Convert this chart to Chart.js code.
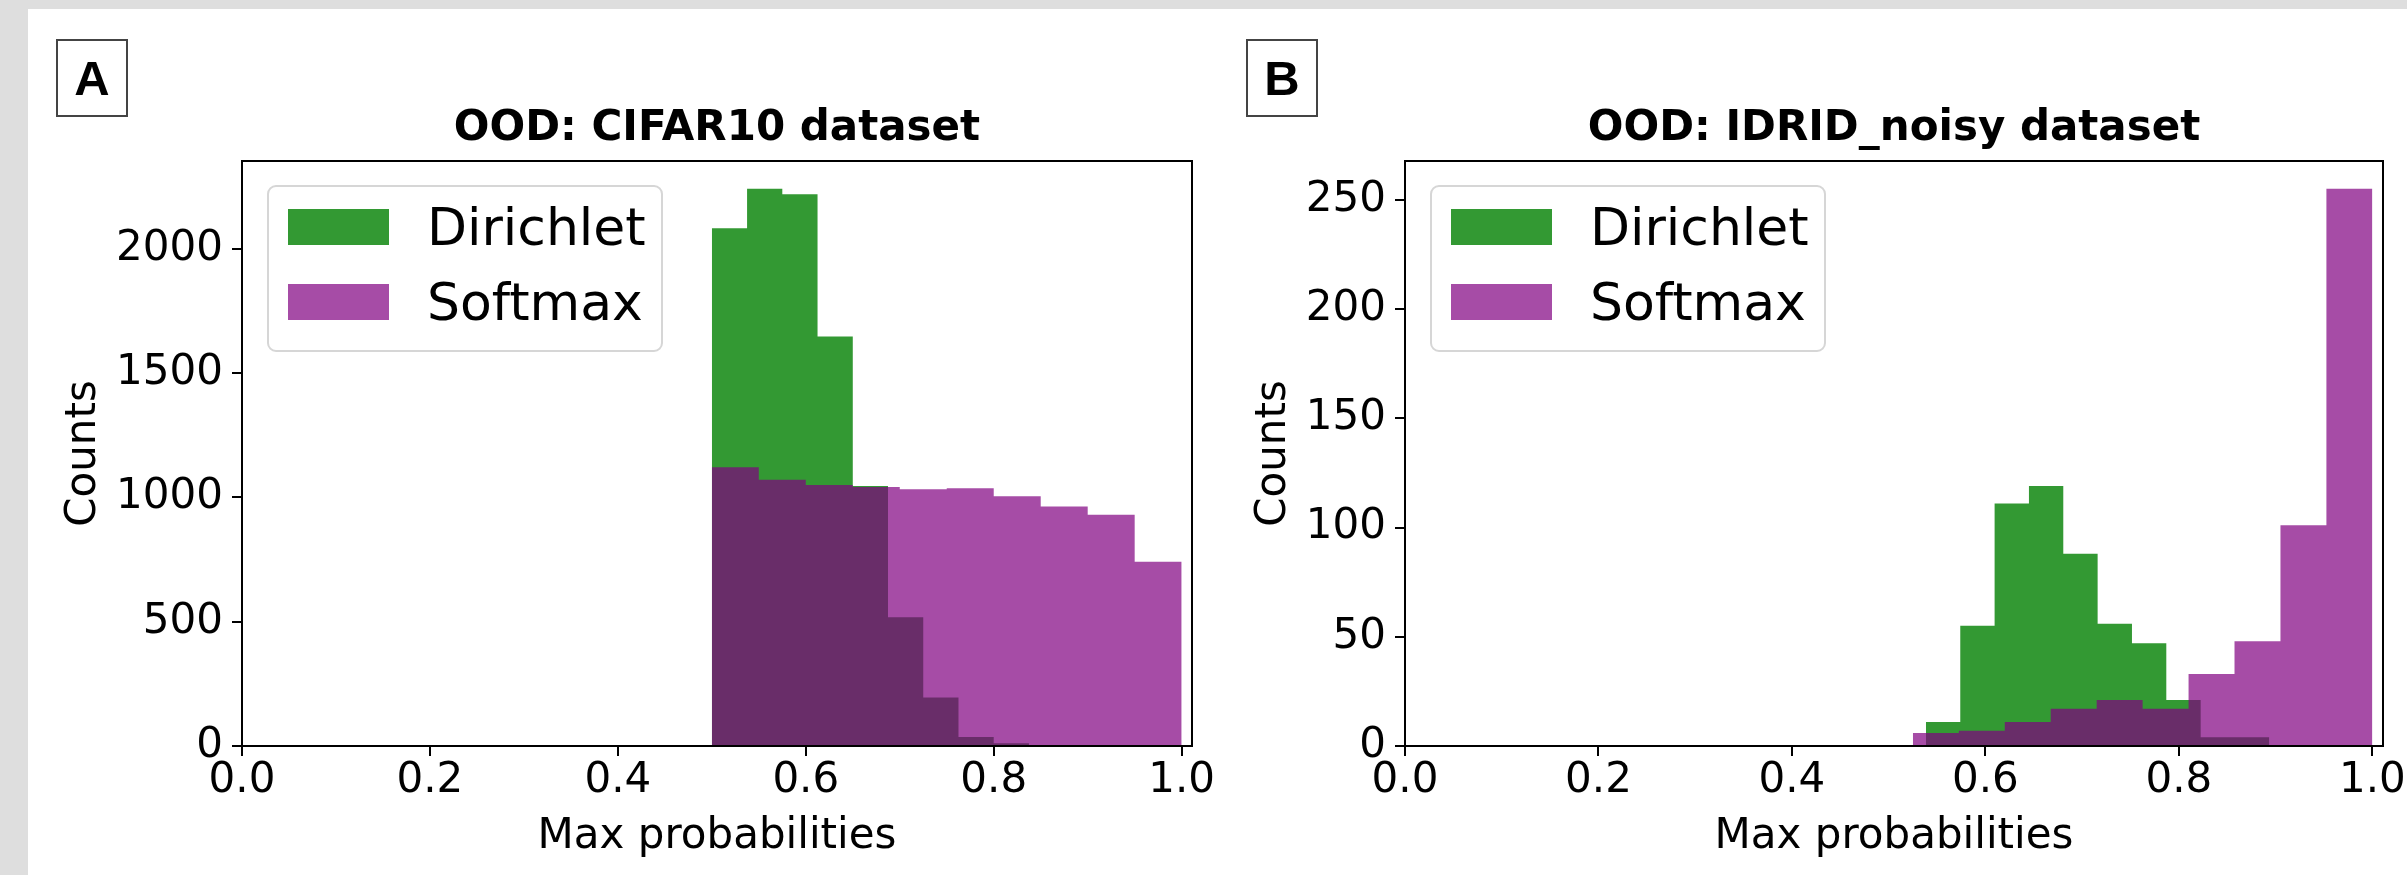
<!DOCTYPE html>
<html>
<head>
<meta charset="utf-8">
<script src="https://cdn.jsdelivr.net/npm/chart.js@4.4.1/dist/chart.umd.min.js"></script>
<style>
  html, body { margin: 0; padding: 0; }
  body { width: 2407px; height: 875px; overflow: hidden; background: #dedede; position: relative; font-family: "DejaVu Sans", sans-serif; }
  .sheet { position: absolute; left: 28px; top: 9px; width: 2500px; height: 900px; background: #fff; }
  .tag { position: absolute; top: 39px; width: 72px; height: 78px; box-sizing: border-box; border: 2px solid #444;
         font: bold 49px "Liberation Sans", sans-serif; display: flex; align-items: center; justify-content: center; z-index: 3; }
  .box { position: absolute; top: 9px; height: 866px; }
  .legend { position: absolute; width: 396px; height: 167px; box-sizing: border-box; border: 2px solid #d6d6d6;
            border-radius: 9px; background: #fff; z-index: 2; }
  .legend .patch { position: absolute; left: 19px; width: 101px; height: 36px; }
  .legend .lbl { position: absolute; left: 158px; height: 36px; line-height: 36px; font-size: 52px; white-space: nowrap; color: #000; }
</style>
</head>
<body>
<div class="sheet"></div>
<div class="tag" style="left:56px">A</div>
<div class="tag" style="left:1246px">B</div>

<div class="box" id="box1" style="left:40px; width:1190px;">
  <canvas id="chart1"></canvas>
  <div class="legend" id="legend1"></div>
</div>
<div class="box" id="box2" style="left:1230px; width:1220px;">
  <canvas id="chart2"></canvas>
  <div class="legend" id="legend2"></div>
</div>

<script>
// CIFAR10 (panel A) histogram bins and counts
const cifarDirEdges = [0.5, 0.5375, 0.575, 0.6125, 0.65, 0.6875, 0.725, 0.7625, 0.8, 0.8375, 0.875];
const cifarDirichlet = [2083, 2242, 2220, 1648, 1046, 518, 195, 36, 11, 3];
const cifarSoftEdges = [0.5, 0.55, 0.6, 0.65, 0.7, 0.75, 0.8, 0.85, 0.9, 0.95, 1.0];
const cifarSoftmax = [1122, 1071, 1050, 1042, 1033, 1037, 1005, 964, 931, 741];
const cifarYTicks = [0, 500, 1000, 1500, 2000];

// IDRID_noisy (panel B)
const idridDirEdges = [0.5385, 0.574, 0.6095, 0.645, 0.6805, 0.716, 0.7515, 0.787, 0.8225, 0.858, 0.8935];
const idridDirichlet = [11, 55, 111, 119, 88, 56, 47, 21, 4, 4];
const idridSoftEdges = [0.525, 0.5725, 0.62, 0.6675, 0.715, 0.7625, 0.81, 0.8575, 0.905, 0.9525, 1.0];
const idridSoftmax = [6, 7, 11, 17, 21, 17, 33, 48, 101, 255];
const idridYTicks = [0, 50, 100, 150, 200, 250];

const xTicks = [0, 0.2, 0.4, 0.6, 0.8, 1.0];
const seriesNames = ['Dirichlet', 'Softmax'];

const GREEN = 'rgba(0,128,0,0.8)';
const PURPLE = 'rgba(128,0,128,0.7)';

Chart.defaults.font.family = "'DejaVu Sans', sans-serif";
Chart.defaults.font.size = 42;
Chart.defaults.color = '#000';

// turn bin edges + counts into the outline of a step histogram
function steps(edges, counts) {
  const pts = [{x: edges[0], y: 0}];
  counts.forEach((c, i) => {
    pts.push({x: edges[i], y: c});
    pts.push({x: edges[i + 1], y: c});
  });
  pts.push({x: edges[edges.length - 1], y: 0});
  return pts;
}

// black box round the plot, like the matplotlib spines
const frame = {
  id: 'frame',
  afterDraw(chart) {
    const {ctx, chartArea: a} = chart;
    ctx.save();
    ctx.strokeStyle = '#000';
    ctx.lineWidth = 2;
    ctx.strokeRect(a.left, a.top, a.right - a.left, a.bottom - a.top);
    ctx.restore();
  }
};

// html legend placed in the upper left corner of the plot
const htmlLegend = {
  id: 'htmlLegend',
  afterUpdate(chart, args, opts) {
    const box = document.getElementById(opts.id);
    box.innerHTML = '';
    chart.data.datasets.forEach((ds, i) => {
      const patch = document.createElement('div');
      patch.className = 'patch';
      patch.style.top = (22 + i * 75) + 'px';
      patch.style.background = ds.backgroundColor;
      const lbl = document.createElement('div');
      lbl.className = 'lbl';
      lbl.style.top = (22 + i * 75) + 'px';
      lbl.textContent = ds.label;
      box.appendChild(patch);
      box.appendChild(lbl);
    });
    box.style.left = (chart.chartArea.left + 25) + 'px';
    box.style.top = (chart.chartArea.top + 24) + 'px';
  }
};

function makeChart(id, legendId, title, dir, dirEdges, soft, softEdges, yMax, yTicks, yWidth, padRight) {
  return new Chart(document.getElementById(id), {
    type: 'line',
    data: {
      datasets: [
        {
          label: seriesNames[0],
          data: steps(dirEdges, dir),
          backgroundColor: GREEN,
          borderColor: 'rgba(0,0,0,0)',
          borderWidth: 0,
          pointRadius: 0,
          fill: 'origin',
          order: 1
        },
        {
          label: seriesNames[1],
          data: steps(softEdges, soft),
          backgroundColor: PURPLE,
          borderColor: 'rgba(0,0,0,0)',
          borderWidth: 0,
          pointRadius: 0,
          fill: 'origin',
          order: 0
        }
      ]
    },
    options: {
      responsive: true,
      maintainAspectRatio: false,
      animation: false,
      events: [],
      layout: { padding: { left: 0, right: padRight, top: 0, bottom: 0 } },
      plugins: {
        legend: { display: false },
        tooltip: { enabled: false },
        title: {
          display: true,
          text: title,
          fullSize: false,
          font: { size: 42, weight: 'bold' },
          padding: { top: 95.3, bottom: 6.3 }
        },
        htmlLegend: { id: legendId }
      },
      scales: {
        x: {
          type: 'linear',
          min: 0,
          max: 1.011,
          afterFit: s => { s.height = 129; },
          afterBuildTicks: s => { s.ticks = xTicks.map(v => ({value: v})); },
          ticks: {
            padding: 0,
            maxRotation: 0,
            autoSkip: false,
            callback: v => v.toFixed(1)
          },
          grid: { display: true, drawOnChartArea: false, drawTicks: true, tickLength: 10, color: '#000', lineWidth: 2 },
          border: { display: true, color: '#000', width: 2 },
          title: { display: true, text: 'Max probabilities', font: { size: 42 }, padding: { top: 0, bottom: 13 } }
        },
        y: {
          min: 0,
          max: yMax,
          afterFit: s => { s.width = yWidth; },
          afterBuildTicks: s => { s.ticks = yTicks.map(v => ({value: v})); },
          ticks: {
            padding: 9,
            autoSkip: false,
            callback: v => String(v)
          },
          grid: { display: true, drawOnChartArea: false, drawTicks: true, tickLength: 10, color: '#000', lineWidth: 2 },
          border: { display: true, color: '#000', width: 2 },
          title: { display: true, text: 'Counts', font: { size: 42 }, padding: { top: 19.3, bottom: 0 } }
        }
      }
    },
    plugins: [frame, htmlLegend]
  });
}

makeChart('chart1', 'legend1', 'OOD: CIFAR10 dataset',
  cifarDirichlet, cifarDirEdges, cifarSoftmax, cifarSoftEdges, 2354, cifarYTicks, 202, 38);
makeChart('chart2', 'legend2', 'OOD: IDRID_noisy dataset',
  idridDirichlet, idridDirEdges, idridSoftmax, idridSoftEdges, 267.75, idridYTicks, 175, 67);
</script>
</body>
</html>
